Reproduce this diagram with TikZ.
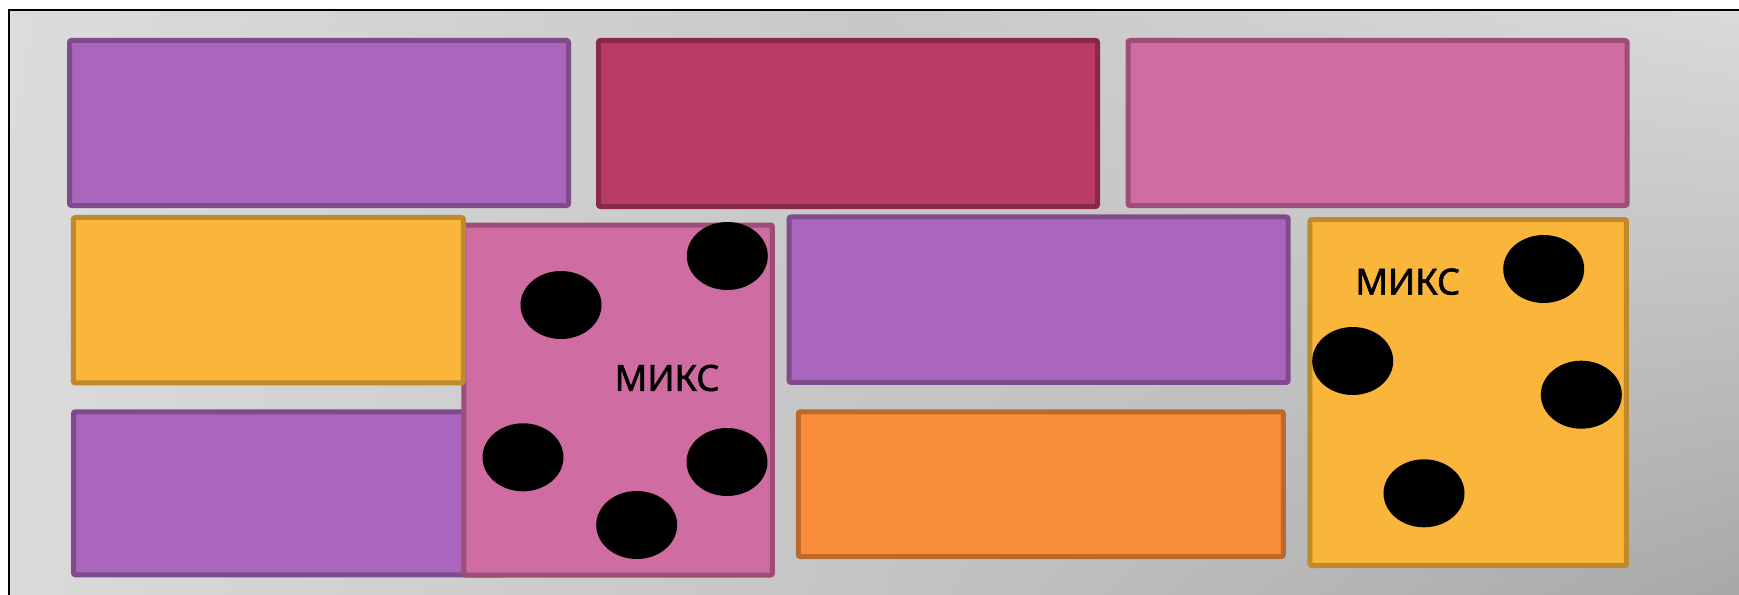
\documentclass[tikz,border=0pt]{standalone}
\usepackage{fontspec}
\setmainfont{Noto Sans}
\newfontfamily\mixfont{Noto Sans}[FakeBold=1.6]
\usetikzlibrary{shapes.geometric,shadings}
\definecolor{bgUL}{HTML}{DCDCDC}
\definecolor{bgUM}{HTML}{C8C8C8}
\definecolor{bgUR}{HTML}{DADADA}
\definecolor{bgLL}{HTML}{DADADA}
\definecolor{bgLM}{HTML}{C4C4C4}
\definecolor{bgLR}{HTML}{A8A8A8}
\definecolor{purpleF}{HTML}{AA66BC}
\definecolor{purpleD}{HTML}{804B8C}
\definecolor{crimsonF}{HTML}{B93C66}
\definecolor{crimsonD}{HTML}{8A2947}
\definecolor{pinkF}{HTML}{CF6CA2}
\definecolor{pinkD}{HTML}{9C4E76}
\definecolor{yellowF}{HTML}{F9B63A}
\definecolor{yellowD}{HTML}{BE8A2B}
\definecolor{orangeF}{HTML}{F98D3B}
\definecolor{orangeD}{HTML}{BC6A2B}
\tikzset{
  tile/.style={draw, line width=5pt, rounded corners=2pt, inner sep=0pt, outer sep=0pt},
  purpletile/.style={tile, fill=purpleF, draw=purpleD},
  crimsontile/.style={tile, fill=crimsonF, draw=crimsonD},
  pinktile/.style={tile, fill=pinkF, draw=pinkD},
  yellowtile/.style={tile, fill=yellowF, draw=yellowD},
  orangetile/.style={tile, fill=orangeF, draw=orangeD},
  dot/.style={ellipse, fill=black, inner sep=0pt, minimum width=81pt, minimum height=68pt},
  label/.style={font=\mixfont\fontsize{36}{40}\selectfont, text=black, inner sep=0pt}
}
\begin{document}
\begin{tikzpicture}[x=1pt, y=-1pt]
\useasboundingbox (0,0) rectangle (1739,594);
\fill[white] (0,0) rectangle (1739,594);
% background gradient
\shade[upper left=bgUL, upper right=bgUM, lower left=bgLL, lower right=bgLM] (9,10.5) rectangle (870,594);
\shade[upper left=bgUM, upper right=bgUR, lower left=bgLM, lower right=bgLR] (870,10.5) rectangle (1739,594);
\draw[black, line width=2pt] (9,600) -- (9,10.5) -- (1745,10.5);
% top row
\node[purpletile, minimum width=499pt, minimum height=165pt] (t1) at (319,123) {};
\node[crimsontile, minimum width=499pt, minimum height=166pt] (t2) at (848,123.5) {};
\node[pinktile, minimum width=499pt, minimum height=165pt] (t3) at (1377.5,123) {};
% lower left
\node[purpletile, minimum width=432pt, minimum height=163pt] (p3) at (289.5,493.3) {};
\node[pinktile, minimum width=308.5pt, minimum height=350pt] (m1) at (618.2,400) {};
\node[yellowtile, minimum width=390pt, minimum height=165.5pt] (y1) at (268.3,300.2) {};
% middle
\node[purpletile, minimum width=499pt, minimum height=165.5pt] (p2) at (1038.6,299.7) {};
\node[orangetile, minimum width=485pt, minimum height=144.7pt] (o1) at (1040.8,484.2) {};
% right
\node[yellowtile, minimum width=316.5pt, minimum height=346pt] (m2) at (1468.2,392.5) {};
% dots in first mix
\node[dot] (a1) at (727.3,256) {};
\node[dot] (a2) at (561,305) {};
\node[dot] (a3) at (523,457.3) {};
\node[dot] (a4) at (727,462) {};
\node[dot] (a5) at (636.7,525) {};
\node[label] (l1) at (667,378) {МИКС};
% dots in second mix
\node[dot] (b1) at (1543.7,269) {};
\node[dot] (b2) at (1352.7,361) {};
\node[dot] (b3) at (1581.3,394.7) {};
\node[dot] (b4) at (1424,493.3) {};
\node[label] (l2) at (1407.7,281.7) {МИКС};
\end{tikzpicture}
\end{document}
